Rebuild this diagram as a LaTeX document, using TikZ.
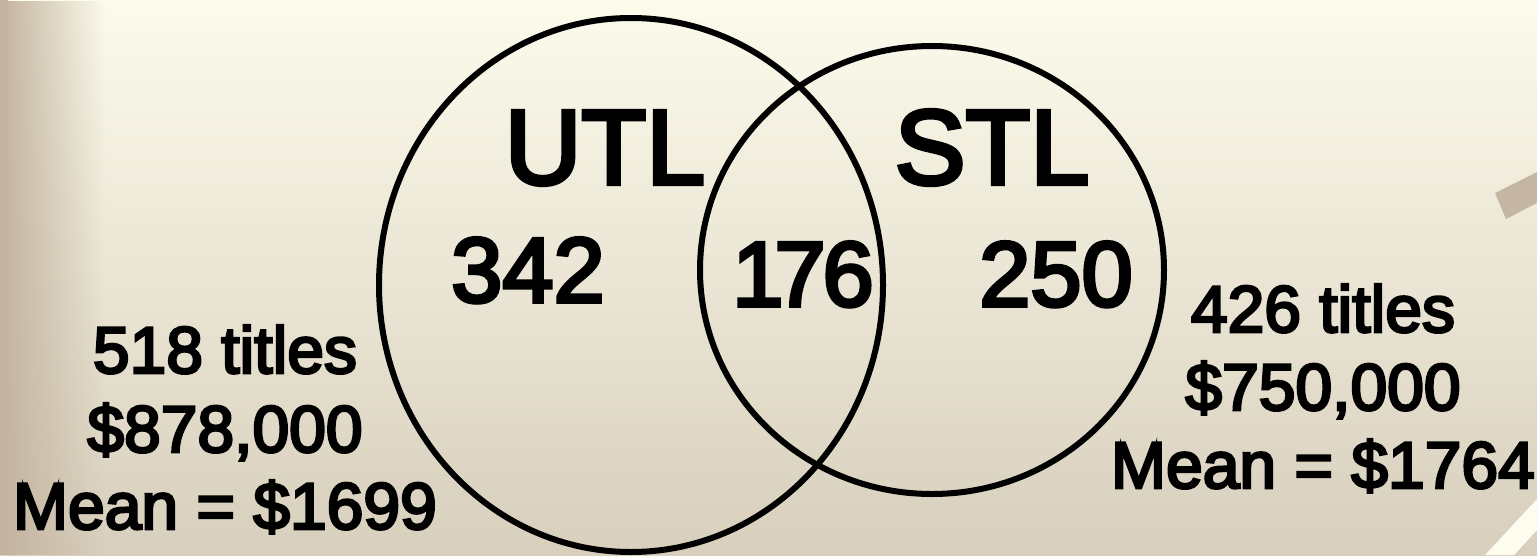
\documentclass[tikz,border=0pt]{standalone}
\usepackage{fontspec}
\setmainfont{Liberation Sans}
\newfontfamily\heavyfont[FakeBold=4]{Liberation Sans}
\usetikzlibrary{fadings,shapes.geometric}
\definecolor{bgtop}{HTML}{FCFBEC}
\definecolor{bgbot}{HTML}{D8CFBD}
\definecolor{tanstrip}{HTML}{C3B39F}
\definecolor{slashtan}{HTML}{C4B6A3}
\definecolor{slashcream}{HTML}{FDFDEF}
\tikzset{
  venn/.style={draw=black, line width=6pt, shape=ellipse, inner sep=0pt, outer sep=0pt},
  biglbl/.style={inner sep=0pt, anchor=base, font=\heavyfont\fontsize{106}{106}\selectfont},
  numlbl/.style={inner sep=0pt, anchor=base, font=\heavyfont\fontsize{92}{92}\selectfont},
  sidelbl/.style={inner sep=0pt, anchor=base, font=\heavyfont\fontsize{66}{66}\selectfont}
}
\begin{document}
\begin{tikzpicture}[x=1pt,y=-1pt]
\useasboundingbox (0,0) rectangle (1537,555);
% background
\shade[top color=bgtop, bottom color=bgbot] (0,0) rectangle (1537,555);
\fill[tanstrip, path fading=east] (0,0) rectangle (105,555);
\fill[tanstrip] (0,0) rectangle (8,555);
% decorative slashes
\fill[slashtan] (1495,193) -- (1506,219) -- (1537,203) -- (1537,172) -- cycle;
\fill[slashcream] (1485,555) -- (1537,499) -- (1537,530) -- (1514,555) -- cycle;
% venn ellipses
\node[venn, minimum width=504pt, minimum height=534pt] (utl) at (631,285) {};
\node[venn, minimum width=464pt, minimum height=448pt] (stl) at (932,270) {};
% labels
\node[biglbl] (utlname) at (605,184) {UTL};
\node[biglbl] (stlname) at (992,184) {STL};
\node[numlbl] (nutl) at (528,302) {342};
\node[numlbl] (nboth) at (803,306) {1\kern-9pt 7\kern-3pt 6};
\node[numlbl] (nstl) at (1056,306) {250};
% side blocks
\node[sidelbl] (l1) at (225,373) {518 titles};
\node[sidelbl] (l2) at (225,452) {\$878,000};
\node[sidelbl] (l3) at (225,529) {Mean = \$1699};
\node[sidelbl] (r1) at (1323,332) {426 titles};
\node[sidelbl] (r2) at (1323,410) {\$750,000};
\node[sidelbl] (r3) at (1323,488) {Mean = \$1764};
\end{tikzpicture}
\end{document}
